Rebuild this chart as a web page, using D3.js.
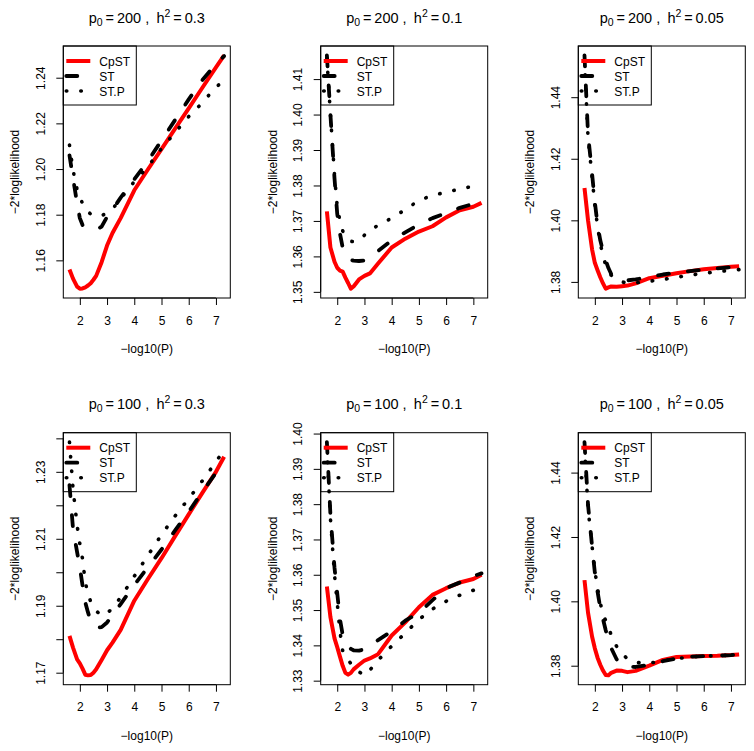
<!DOCTYPE html>
<html>
<head>
<meta charset="utf-8">
<script src="https://cdnjs.cloudflare.com/ajax/libs/d3/7.8.5/d3.min.js"></script>
<style>
body { margin: 0; background: #fff; }
svg text { font-family: "Liberation Sans", Arial, Helvetica, sans-serif; fill: #000; }
</style>
</head>
<body>
<svg id="chart" width="754" height="751"></svg>
<script>
// -log10(P) grid shared by all curves
var xs = [1.62, 1.75, 1.9, 2.0, 2.1, 2.2, 2.3, 2.4, 2.5, 2.6, 2.8, 3.0, 3.2, 3.5, 4.0, 4.5, 5.0, 5.5, 6.0, 6.5, 7.0, 7.3];

var seriesNames = ["CpST", "ST", "ST.P"];
var p0Values = [200, 200, 200, 100, 100, 100];
var h2Values = ["0.3", "0.1", "0.05", "0.3", "0.1", "0.05"];
var xTicks = [2, 3, 4, 5, 6, 7];

var yTicks = [
  [1.16, 1.18, 1.20, 1.22, 1.24],
  [1.35, 1.36, 1.37, 1.38, 1.39, 1.40, 1.41],
  [1.38, 1.40, 1.42, 1.44],
  [1.17, 1.18, 1.19, 1.20, 1.21, 1.22, 1.23, 1.24],
  [1.33, 1.34, 1.35, 1.36, 1.37, 1.38, 1.39, 1.40],
  [1.38, 1.40, 1.42, 1.44]
];
var yTickLabels = [
  ["1.16", "1.18", "1.20", "1.22", "1.24"],
  ["1.35", "1.36", "1.37", "1.38", "1.39", "1.40", "1.41"],
  ["1.38", "1.40", "1.42", "1.44"],
  ["1.17", "", "1.19", "", "1.21", "", "1.23", ""],
  ["1.33", "1.34", "1.35", "1.36", "1.37", "1.38", "1.39", "1.40"],
  ["1.38", "1.40", "1.42", "1.44"]
];

// p0 = 200, h2 = 0.3
var cpst_200_03 = [1.1560, 1.1520, 1.1485, 1.1476, 1.1477, 1.1482, 1.1490, 1.1500, 1.1515, 1.1532, 1.1592, 1.1665, 1.1720, 1.1785, 1.1907, 1.1998, 1.2087, 1.2177, 1.2266, 1.2356, 1.2445, 1.2498];
var st_200_03   = [1.2060, 1.1960, 1.1850, 1.1785, 1.1755, 1.1748, 1.1742, 1.1738, 1.1735, 1.1734, 1.1748, 1.1790, 1.1822, 1.1875, 1.1955, 1.2035, 1.2125, 1.2215, 1.2305, 1.2390, 1.2460, 1.2495];
var stp_200_03  = [1.2105, 1.1995, 1.1910, 1.1875, 1.1850, 1.1825, 1.1812, 1.1803, 1.1797, 1.1793, 1.1795, 1.1808, 1.1825, 1.1870, 1.1945, 1.2010, 1.2090, 1.2160, 1.2230, 1.2290, 1.2360, 1.2385];
// p0 = 200, h2 = 0.1
var cpst_200_01 = [1.3727, 1.3625, 1.3585, 1.3568, 1.3560, 1.3557, 1.3540, 1.3525, 1.3509, 1.3515, 1.3535, 1.3545, 1.3552, 1.3580, 1.3625, 1.3650, 1.3670, 1.3685, 1.3710, 1.3730, 1.3740, 1.3751];
var st_200_01   = [1.4167, 1.4000, 1.3820, 1.3720, 1.3665, 1.3625, 1.3603, 1.3595, 1.3590, 1.3588, 1.3587, 1.3588, 1.3597, 1.3615, 1.3645, 1.3668, 1.3690, 1.3708, 1.3722, 1.3737, 1.3748, 1.3752];
var stp_200_01  = [1.4160, 1.4000, 1.3830, 1.3740, 1.3700, 1.3672, 1.3657, 1.3648, 1.3643, 1.3641, 1.3645, 1.3660, 1.3672, 1.3688, 1.3708, 1.3732, 1.3758, 1.3772, 1.3781, 1.3790, 1.3798, 1.3803];
// p0 = 200, h2 = 0.05
var cpst_200_005 = [1.4105, 1.4000, 1.3905, 1.3862, 1.3838, 1.3815, 1.3795, 1.3778, 1.3782, 1.3785, 1.3784, 1.3786, 1.3788, 1.3795, 1.3812, 1.3820, 1.3828, 1.3835, 1.3841, 1.3845, 1.3849, 1.3851];
var st_200_005   = [1.4536, 1.4280, 1.4150, 1.4060, 1.3985, 1.3935, 1.3900, 1.3870, 1.3845, 1.3826, 1.3815, 1.3808, 1.3805, 1.3808, 1.3816, 1.3824, 1.3830, 1.3835, 1.3840, 1.3844, 1.3848, 1.3850];
var stp_200_005  = [1.4520, 1.4270, 1.4140, 1.4050, 1.3980, 1.3925, 1.3885, 1.3855, 1.3835, 1.3822, 1.3810, 1.3800, 1.3796, 1.3797, 1.3802, 1.3808, 1.3815, 1.3822, 1.3828, 1.3833, 1.3838, 1.3840];
// p0 = 100, h2 = 0.3
var cpst_100_03 = [1.1810, 1.1775, 1.1740, 1.1728, 1.1712, 1.1694, 1.1692, 1.1693, 1.1700, 1.1710, 1.1738, 1.1767, 1.1790, 1.1828, 1.1915, 1.1980, 1.2042, 1.2108, 1.2173, 1.2237, 1.2300, 1.2345];
var st_100_03   = [1.2260, 1.2130, 1.2060, 1.2015, 1.1960, 1.1910, 1.1880, 1.1855, 1.1840, 1.1835, 1.1836, 1.1850, 1.1872, 1.1905, 1.1962, 1.2015, 1.2068, 1.2125, 1.2181, 1.2240, 1.2297, 1.2330];
var stp_100_03  = [1.2389, 1.2250, 1.2140, 1.2085, 1.2040, 1.1970, 1.1935, 1.1912, 1.1897, 1.1885, 1.1870, 1.1878, 1.1892, 1.1925, 1.1988, 1.2050, 1.2112, 1.2168, 1.2220, 1.2273, 1.2330, 1.2365];
// p0 = 100, h2 = 0.1
var cpst_100_01 = [1.3567, 1.3480, 1.3420, 1.3395, 1.3368, 1.3342, 1.3322, 1.3317, 1.3322, 1.3332, 1.3345, 1.3357, 1.3363, 1.3375, 1.3428, 1.3465, 1.3508, 1.3543, 1.3562, 1.3578, 1.3588, 1.3600];
var st_100_01   = [1.3976, 1.3770, 1.3620, 1.3548, 1.3475, 1.3430, 1.3410, 1.3398, 1.3390, 1.3386, 1.3385, 1.3389, 1.3398, 1.3415, 1.3440, 1.3470, 1.3492, 1.3528, 1.3562, 1.3578, 1.3596, 1.3604];
var stp_100_01  = [1.3960, 1.3760, 1.3600, 1.3520, 1.3440, 1.3385, 1.3370, 1.3360, 1.3348, 1.3337, 1.3325, 1.3315, 1.3330, 1.3358, 1.3398, 1.3435, 1.3473, 1.3503, 1.3525, 1.3542, 1.3556, 1.3565];
// p0 = 100, h2 = 0.05
var cpst_100_005 = [1.4066, 1.3965, 1.3890, 1.3854, 1.3825, 1.3803, 1.3785, 1.3771, 1.3770, 1.3778, 1.3785, 1.3784, 1.3780, 1.3784, 1.3800, 1.3818, 1.3827, 1.3829, 1.3830, 1.3831, 1.3833, 1.3835];
var st_100_005   = [1.4495, 1.4300, 1.4170, 1.4090, 1.4030, 1.3980, 1.3945, 1.3910, 1.3880, 1.3855, 1.3820, 1.3803, 1.3797, 1.3796, 1.3803, 1.3814, 1.3822, 1.3828, 1.3830, 1.3831, 1.3833, 1.3835];
var stp_100_005  = [1.4480, 1.4290, 1.4170, 1.4095, 1.4040, 1.3995, 1.3960, 1.3940, 1.3920, 1.3895, 1.3860, 1.3836, 1.3822, 1.3810, 1.3808, 1.3815, 1.3822, 1.3827, 1.3830, 1.3831, 1.3833, 1.3834];

var panelSeries = [
  [cpst_200_03, st_200_03, stp_200_03],
  [cpst_200_01, st_200_01, stp_200_01],
  [cpst_200_005, st_200_005, stp_200_005],
  [cpst_100_03, st_100_03, stp_100_03],
  [cpst_100_01, st_100_01, stp_100_01],
  [cpst_100_005, st_100_005, stp_100_005]
];

// line styles, R-like: lwd ~3.7, lty solid / dashed / dotted
var styles = [
  {color: "#ff0000", width: 4, dash: null, cap: "butt"},
  {color: "#000000", width: 3.8, dash: "11,19", cap: "round"},
  {color: "#000000", width: 3.6, dash: "0.5,14", cap: "round"}
];

var boxLefts = [63.3, 320.7, 578.3];
var boxTops = [46, 432.7];
var boxW = 167, boxH = 252;

var svg = d3.select("#chart");
svg.append("rect").attr("width", 754).attr("height", 751).attr("fill", "#fff");

// R pads the data range by 4% on each side
function padded(ext) {
  var r = ext[1] - ext[0];
  return [ext[0] - 0.04 * r, ext[1] + 0.04 * r];
}

function drawPanel(i) {
  var left = boxLefts[i % 3], top = boxTops[Math.floor(i / 3)];
  var series = panelSeries[i];
  var g = svg.append("g").attr("transform", "translate(" + left + "," + top + ")");

  var allY = d3.merge(series);
  var x = d3.scaleLinear().domain(padded(d3.extent(xs))).range([0, boxW]);
  var y = d3.scaleLinear().domain(padded(d3.extent(allY))).range([boxH, 0]);

  var line = d3.line()
      .x(function(d, j) { return x(xs[j]); })
      .y(function(d) { return y(d); });

  g.append("clipPath").attr("id", "clip" + i)
    .append("rect").attr("width", boxW).attr("height", boxH);

  var curves = g.append("g").attr("clip-path", "url(#clip" + i + ")");
  series.forEach(function(s, k) {
    var st = styles[k];
    curves.append("path")
        .attr("d", line(s))
        .attr("fill", "none")
        .attr("stroke", st.color)
        .attr("stroke-width", st.width)
        .attr("stroke-linecap", st.cap)
        .attr("stroke-linejoin", "round")
        .attr("stroke-dasharray", st.dash);
  });

  // x axis
  var xa = g.append("g").attr("transform", "translate(0," + boxH + ")")
      .call(d3.axisBottom(x).tickValues(xTicks).tickSize(7).tickPadding(11)
        .tickFormat(d3.format("d")));
  xa.select(".domain").remove();
  xa.append("line")
      .attr("x1", x(xTicks[0])).attr("x2", x(xTicks[xTicks.length - 1]))
      .attr("stroke", "#000");
  xa.selectAll("text").attr("font-size", 12).attr("fill", "#000")
      .attr("font-family", "Liberation Sans, Arial, sans-serif");

  // y axis, labels parallel to the axis
  var ticks = yTicks[i], labels = yTickLabels[i];
  var ya = g.append("g")
      .call(d3.axisLeft(y).tickValues(ticks).tickSize(7)
        .tickFormat(function(d, j) { return labels[j]; }));
  ya.select(".domain").remove();
  ya.append("line")
      .attr("y1", y(ticks[0])).attr("y2", y(ticks[ticks.length - 1]))
      .attr("stroke", "#000");
  ya.selectAll("text")
      .attr("x", null).attr("dy", null)
      .attr("text-anchor", "middle")
      .attr("transform", "translate(-18.5,0) rotate(-90)")
      .attr("font-size", 12).attr("fill", "#000")
      .attr("font-family", "Liberation Sans, Arial, sans-serif");

  g.append("rect").attr("width", boxW).attr("height", boxH)
      .attr("fill", "none").attr("stroke", "#000").attr("stroke-width", 1);

  // axis titles
  g.append("text")
      .attr("x", boxW / 2).attr("y", boxH + 55)
      .attr("text-anchor", "middle").attr("font-size", 12)
      .text("\u2212log10(P)");
  g.append("text")
      .attr("transform", "translate(-44," + (boxH / 2) + ") rotate(-90)")
      .attr("text-anchor", "middle").attr("font-size", 12)
      .text("\u22122*loglikelihood");

  // title: p0 = 200 ,  h^2 = 0.3
  var t = g.append("text")
      .attr("x", boxW / 2).attr("y", -23.5)
      .attr("text-anchor", "middle").attr("font-size", 14.5);
  t.append("tspan").text("p");
  t.append("tspan").attr("dy", 3).attr("font-size", 10.5).text("0");
  t.append("tspan").attr("dy", -3).text("\u2009=\u2009" + p0Values[i] + " ,\u2002h");
  t.append("tspan").attr("dy", -6).attr("font-size", 10.5).text("2");
  t.append("tspan").attr("dy", 6).text("\u2009=\u2009" + h2Values[i]);

  // legend
  var lg = g.append("g");
  lg.append("rect").attr("width", 73).attr("height", 59)
      .attr("fill", "none").attr("stroke", "#000").attr("stroke-width", 1);
  seriesNames.forEach(function(name, k) {
    var st = styles[k], yy = 15 + k * 15;
    lg.append("line")
        .attr("x1", 3).attr("x2", 27).attr("y1", yy).attr("y2", yy)
        .attr("stroke", st.color).attr("stroke-width", st.width)
        .attr("stroke-linecap", st.cap)
        .attr("stroke-dasharray", st.dash);
    lg.append("text").attr("x", 36).attr("y", yy + 4.5)
        .attr("font-size", 12).text(name);
  });
}

for (var i = 0; i < 6; i++) drawPanel(i);
</script>
</body>
</html>
